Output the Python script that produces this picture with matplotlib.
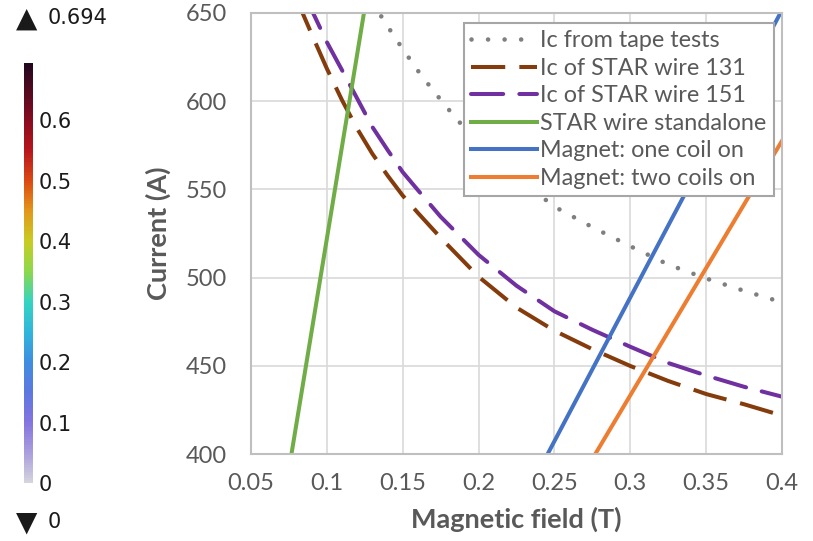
import matplotlib
matplotlib.use('Agg')
import matplotlib.pyplot as plt
from matplotlib.colors import LinearSegmentedColormap, Normalize
from matplotlib.colorbar import ColorbarBase

# 데이터
tape_b = [0.13, 0.14, 0.15, 0.16, 0.17, 0.18, 0.19, 0.2, 0.225, 0.25,
          0.275, 0.3, 0.325, 0.35, 0.375, 0.4]
tape_i = [656, 642.5, 629.6, 617.3, 606.1, 595.6, 585.5, 576.5, 557, 540.2,
          528.6, 517.8, 507.4, 499.5, 492.5, 486]

star_b = [0.08, 0.09, 0.1, 0.11, 0.12, 0.13, 0.14, 0.15, 0.16, 0.175,
          0.2, 0.225, 0.25, 0.275, 0.3, 0.325, 0.35, 0.375, 0.4]
star131_i = [658, 638, 618.5, 600.6, 584.4, 570.2, 557.9, 546.5, 536.7, 522.6,
             500.5, 483, 469.9, 459.4, 449.9, 441.4, 434, 428.2, 421.8]
star151_i = [668, 651.7, 633.5, 617.6, 601.5, 585.4, 572.4, 559.8, 549.6, 534.5,
             512.9, 495.4, 480.9, 470.4, 460.8, 451.6, 444.5, 438.1, 432.5]

standalone_b = [0.07, 0.13]
standalone_i = [365, 679]
one_coil_b = [0.24, 0.41]
one_coil_i = [391, 668]
two_coil_b = [0.27, 0.41]
two_coil_i = [390, 592]

x_ticks = [0.05, 0.1, 0.15, 0.2, 0.25, 0.3, 0.35, 0.4]
x_labels = ['0.05', '0.1', '0.15', '0.2', '0.25', '0.3', '0.35', '0.4']
y_ticks = [400, 450, 500, 550, 600, 650]

cbar_max = 0.694
cbar_min = 0
cbar_ticks = [0, 0.1, 0.2, 0.3, 0.4, 0.5, 0.6]
cbar_nodes = [0, 0.072, 0.144, 0.216, 0.288, 0.36, 0.432, 0.504, 0.576,
              0.648, 0.72, 0.793, 0.865, 1.0]
cbar_colors = ['#d4d3de', '#a99ddc', '#8474e0', '#5c78e0', '#3e8ee0', '#30b6dc',
               '#34d4c0', '#8cd84c', '#c8cc22', '#e2981a', '#dc4a12', '#b8161c',
               '#880c20', '#22081f']

GRAY = '#595959'
plt.rcParams['font.family'] = ['Lato', 'DejaVu Sans']

fig = plt.figure(figsize=(8.13, 5.41), dpi=100)
ax = fig.add_axes([0.3087, 0.1608, 0.6532, 0.8152])

lw = 2.9
ax.plot(tape_b, tape_i, color='#7f7f7f', lw=3.3, linestyle=(0, (0.01, 3.6)),
        dash_capstyle='round', label='Ic from tape tests')
ax.plot(star_b, star131_i, color='#843c0c', lw=lw, linestyle=(0, (8.5, 3.5)),
        dash_capstyle='butt', label='Ic of STAR wire 131')
ax.plot(star_b, star151_i, color='#7030a0', lw=lw, linestyle=(0, (8.0, 4.0)),
        dash_capstyle='round', label='Ic of STAR wire 151')
ax.plot(standalone_b, standalone_i, color='#70ad47', lw=lw, label='STAR wire standalone')
ax.plot(one_coil_b, one_coil_i, color='#4472c4', lw=lw, label='Magnet: one coil on')
ax.plot(two_coil_b, two_coil_i, color='#ed7d31', lw=lw, label='Magnet: two coils on')

ax.set_xlim(0.05, 0.4)
ax.set_ylim(400, 650)
ax.set_xticks(x_ticks)
ax.set_xticklabels(x_labels)
ax.set_yticks(y_ticks)
ax.grid(True, color='#d9d9d9', lw=1.2)
ax.set_axisbelow(True)
for s in ax.spines.values():
    s.set_color('#bfbfbf')
    s.set_linewidth(1.5)
ax.tick_params(length=0, labelsize=17, colors=GRAY)
ax.tick_params(axis='x', pad=14)
ax.tick_params(axis='y', pad=17)
ax.set_xlabel('Magnetic field (T)', fontsize=19.5, fontweight='bold', color=GRAY, labelpad=9)
ax.set_ylabel('Current (A)', fontsize=19.5, fontweight='bold', color=GRAY, labelpad=11)

leg = ax.legend(loc='upper left', bbox_to_anchor=(0.401, 0.978), fontsize=16.8,
                handlelength=2.8, handletextpad=0.15, labelspacing=0.28,
                borderpad=0.32, borderaxespad=0, fancybox=False, framealpha=1)
leg.get_frame().set_edgecolor('#a6a6a6')
leg.get_frame().set_linewidth(1.5)
for t in leg.get_texts():
    t.set_color(GRAY)

# 왼쪽 컬러바
cax = fig.add_axes([0.0295, 0.107, 0.011, 0.776])
cmap = LinearSegmentedColormap.from_list('comsol', list(zip(cbar_nodes, cbar_colors)))
cb = ColorbarBase(cax, cmap=cmap, norm=Normalize(cbar_min, cbar_max), ticks=cbar_ticks)
cb.outline.set_visible(False)
cb.ax.tick_params(length=0, pad=4, labelsize=15, colors='#1a1a1a')
cb.ax.set_yticklabels(['0', '0.1', '0.2', '0.3', '0.4', '0.5', '0.6'], family='DejaVu Sans')

# 최대/최소 표시
fig.text(0.02, 0.966, '\u25b2', fontsize=20, family='DejaVu Sans', color='#1a1a1a', va='center')
fig.text(0.058, 0.966, f'{cbar_max:g}', fontsize=15, family='DejaVu Sans',
         color='#1a1a1a', va='center')
fig.text(0.02, 0.035, '\u25bc', fontsize=20, family='DejaVu Sans', color='#1a1a1a', va='center')
fig.text(0.058, 0.035, f'{cbar_min:g}', fontsize=15, family='DejaVu Sans',
         color='#1a1a1a', va='center')

fig.savefig('out.png', dpi=100)
